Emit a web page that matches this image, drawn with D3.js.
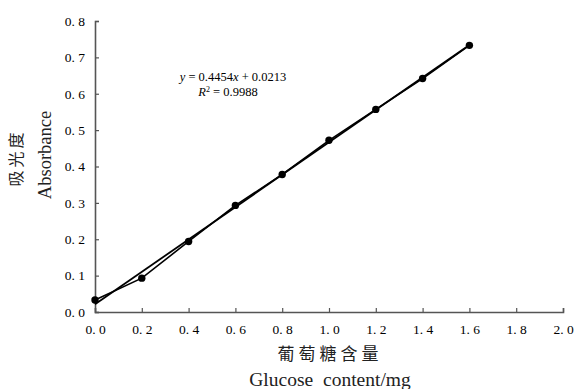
<!DOCTYPE html>
<html>
<head>
<meta charset="utf-8">
<script src="https://cdn.jsdelivr.net/npm/d3@7"></script>
<style>
  body { margin: 0; background: #fff; }
  svg { display: block; }
</style>
</head>
<body>
<svg width="576" height="389"></svg>
<script>
"use strict"

// glucose content (mg) vs absorbance
const glucose = [0.0, 0.2, 0.4, 0.6, 0.8, 1.0, 1.2, 1.4, 1.6]
const absorbance = [0.033, 0.093, 0.194, 0.293, 0.378, 0.472, 0.557, 0.642, 0.733]
const xTicks = [0.0, 0.2, 0.4, 0.6, 0.8, 1.0, 1.2, 1.4, 1.6, 1.8, 2.0]
const yTicks = [0.0, 0.1, 0.2, 0.3, 0.4, 0.5, 0.6, 0.7, 0.8]
const slope = 0.4454, intercept = 0.0213
const eqLines = ["= 0.4454", "= 0.9988"]

const svg = d3.select('svg')
const serif = '"Liberation Serif", "DejaVu Serif", serif'

const x = d3.scaleLinear().domain([0, 2]).range([95, 563])
const y = d3.scaleLinear().domain([0, 0.8]).range([312, 21])

const fmt = v => d3.format('.1f')(v).replace('.', '. ')

// axes, ticks inside
const xAxis = svg.append('g')
    .attr('transform', `translate(0,${y(0)})`)
    .call(d3.axisBottom(x).tickValues(xTicks).tickSizeInner(-4).tickSizeOuter(-4).tickPadding(10).tickFormat(fmt))
const yAxis = svg.append('g')
    .attr('transform', `translate(${x(0)},0)`)
    .call(d3.axisLeft(y).tickValues(yTicks).tickSizeInner(-4).tickSizeOuter(-4).tickPadding(10).tickFormat(fmt))

svg.selectAll('.domain').attr('stroke', '#555').attr('stroke-width', 1.6)
svg.selectAll('.tick line').attr('stroke', '#555').attr('stroke-width', 1.2)
svg.selectAll('.tick text').attr('font-family', serif).attr('font-size', 13.5).attr('fill', '#000')
xAxis.selectAll('.tick text').attr('dy', '0.9em')

// trend line
svg.append('line')
    .attr('x1', x(0)).attr('y1', y(intercept))
    .attr('x2', x(1.6)).attr('y2', y(slope * 1.6 + intercept))
    .attr('stroke', '#000').attr('stroke-width', 1.8)

// data line + markers
const pts = glucose.map((g, i) => [g, absorbance[i]])
svg.append('path')
    .datum(pts)
    .attr('fill', 'none').attr('stroke', '#000').attr('stroke-width', 1.6)
    .attr('d', d3.line().x(d => x(d[0])).y(d => y(d[1])))
svg.selectAll('circle.pt')
    .data(pts)
    .join('circle')
    .attr('class', 'pt')
    .attr('cx', d => x(d[0])).attr('cy', d => y(d[1]))
    .attr('r', 3.7).attr('fill', '#000')

// equation
const eq = svg.append('g').attr('font-family', serif).attr('font-size', 12.5).attr('fill', '#000')
const t1 = eq.append('text').attr('x', 233).attr('y', 81).attr('text-anchor', 'middle')
t1.append('tspan').attr('font-style', 'italic').text('y')
t1.append('tspan').text(' ' + eqLines[0])
t1.append('tspan').attr('font-style', 'italic').text('x')
t1.append('tspan').text(' + 0.0213')
const t2 = eq.append('text').attr('x', 228).attr('y', 96).attr('text-anchor', 'middle')
t2.append('tspan').attr('font-style', 'italic').text('R')
t2.append('tspan').attr('font-size', 8).attr('dy', -4).text('2')
t2.append('tspan').attr('dy', 4).text(' ' + eqLines[1])

// axis titles
svg.append('text')
    .attr('transform', 'translate(22,158) rotate(-90)')
    .attr('text-anchor', 'middle')
    .attr('font-family', '"Noto Sans CJK SC", sans-serif')
    .attr('font-size', 16).attr('letter-spacing', 3).attr('fill', '#222')
    .text('吸光度')
svg.append('text')
    .attr('transform', 'translate(51,155) rotate(-90)')
    .attr('text-anchor', 'middle')
    .attr('font-family', serif)
    .attr('font-size', 18.5).attr('fill', '#222')
    .text('Absorbance')
svg.append('text')
    .attr('x', 330).attr('y', 360)
    .attr('text-anchor', 'middle')
    .attr('font-family', '"Noto Sans CJK SC", sans-serif')
    .attr('font-size', 17).attr('letter-spacing', 4).attr('fill', '#222')
    .text('葡萄糖含量')
svg.append('text')
    .attr('x', 330).attr('y', 386)
    .attr('text-anchor', 'middle')
    .attr('font-family', serif)
    .attr('font-size', 19.5).attr('word-spacing', 5).attr('fill', '#222')
    .text('Glucose content/mg')
</script>
</body>
</html>
